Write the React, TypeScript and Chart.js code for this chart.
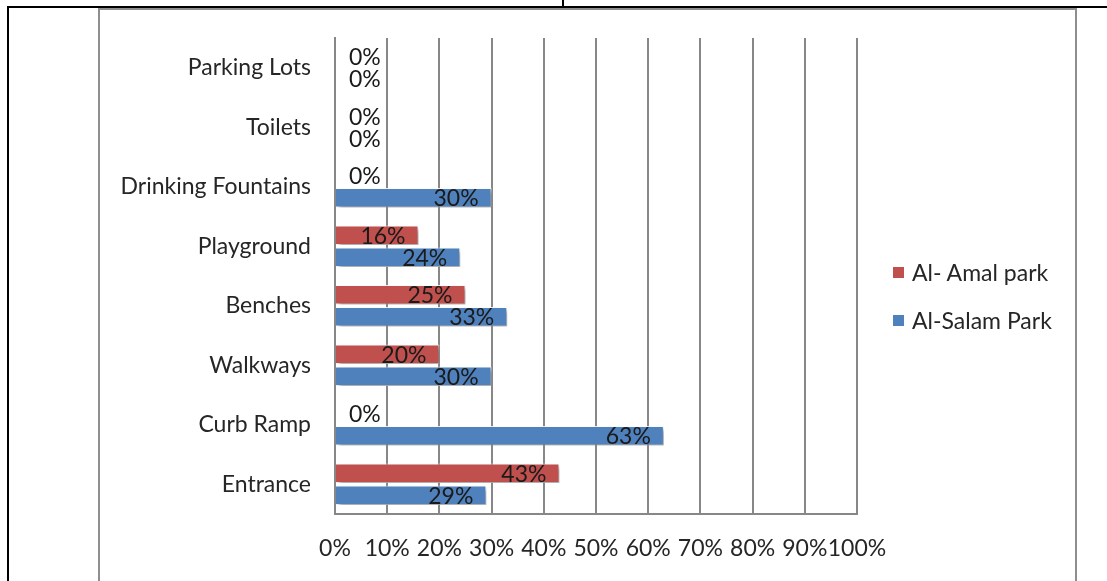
import React, { useEffect, useRef } from "react";
import { Chart, registerables } from "chart.js";

Chart.register(...registerables);

const categories = [
  "Parking Lots",
  "Toilets",
  "Drinking Fountains",
  "Playground",
  "Benches",
  "Walkways",
  "Curb Ramp",
  "Entrance",
];
const amalPark = [0, 0, 0, 16, 25, 20, 0, 43];
const salamPark = [0, 0, 30, 24, 33, 30, 63, 29];
const xTicks = [0, 10, 20, 30, 40, 50, 60, 70, 80, 90, 100];

const FONT = "Lato";
const FS = 23;
const TEXT = "#262626";
const GRID = "#878787";

const labelPlugin = {
  id: "valueLabels",
  afterDatasetsDraw(chart: any) {
    const ctx = chart.ctx;
    ctx.save();
    ctx.font = `${FS}px ${FONT}`;
    ctx.fillStyle = "#1a1a1a";
    ctx.textBaseline = "middle";
    chart.data.datasets.forEach((ds: any, i: number) => {
      const meta = chart.getDatasetMeta(i);
      meta.data.forEach((bar: any, j: number) => {
        const v = ds.data[j];
        const t = v + "%";
        if (v > 0) {
          ctx.textAlign = "right";
          ctx.fillText(t, bar.x - 13, bar.y + 1);
        } else {
          ctx.textAlign = "left";
          ctx.fillText(t, bar.base + 14, bar.y + 1);
        }
      });
    });
    ctx.restore();
  },
};

const shadowPlugin = {
  id: "barShadow",
  beforeDatasetsDraw(chart: any) {
    const ctx = chart.ctx;
    ctx.save();
    ctx.shadowColor = "rgba(0,0,0,0.35)";
    ctx.shadowBlur = 4;
    ctx.shadowOffsetX = 3;
    ctx.shadowOffsetY = 3;
  },
  afterDatasetsDraw(chart: any) {
    chart.ctx.restore();
  },
};

export default function App() {
  const ref = useRef<HTMLCanvasElement | null>(null);

  useEffect(() => {
    if (!ref.current) return;
    const chart = new Chart(ref.current, {
      type: "bar",
      data: {
        labels: categories,
        datasets: [
          {
            label: "Al- Amal park",
            data: amalPark,
            backgroundColor: "#C0504D",
            borderColor: "rgba(255,255,255,0.85)",
            borderWidth: 1,
            categoryPercentage: 0.74,
            barPercentage: 0.88,
          },
          {
            label: "Al-Salam Park",
            data: salamPark,
            backgroundColor: "#4F81BD",
            borderColor: "rgba(255,255,255,0.85)",
            borderWidth: 1,
            categoryPercentage: 0.74,
            barPercentage: 0.88,
          },
        ],
      },
      options: {
        indexAxis: "y",
        animation: false,
        responsive: false,
        maintainAspectRatio: false,
        layout: { padding: { left: 0, right: 250, top: 38, bottom: 0 } },
        plugins: {
          legend: { display: false },
          tooltip: { enabled: false },
        },
        scales: {
          x: {
            min: 0,
            max: 100,
            afterBuildTicks: (scale: any) => {
              scale.ticks = xTicks.map((v) => ({ value: v }));
            },
            afterFit: (scale: any) => {
              scale.height = 67;
            },
            grid: { color: GRID, lineWidth: 2, drawTicks: false },
            border: { display: true, color: GRID, width: 2 },
            ticks: {
              padding: 21,
              color: TEXT,
              font: { family: FONT, size: FS },
              maxRotation: 0,
              autoSkip: false,
              callback: (v: any) => v + "%",
            },
          },
          y: {
            afterFit: (scale: any) => {
              scale.width = 335;
            },
            grid: { display: false, drawTicks: false },
            border: { display: true, color: GRID, width: 2 },
            ticks: {
              padding: 24,
              color: TEXT,
              font: { family: FONT, size: FS },
              autoSkip: false,
            },
          },
        },
      },
      plugins: [shadowPlugin, labelPlugin],
    });
    return () => chart.destroy();
  }, []);

  const legendItem = (top: number, color: string, text: string) => (
    <div
      style={{
        position: "absolute",
        left: 893,
        top: top - 15,
        height: 30,
        display: "flex",
        alignItems: "center",
        fontFamily: FONT,
        fontSize: FS,
        color: TEXT,
        whiteSpace: "nowrap",
      }}
    >
      <div style={{ width: 11, height: 11, background: color, marginRight: 8 }} />
      <span>{text}</span>
    </div>
  );

  return (
    <div
      style={{
        position: "absolute",
        left: 0,
        top: 0,
        width: 1107,
        height: 581,
        overflow: "hidden",
        background: "#fff",
      }}
    >
      <div style={{ position: "absolute", left: 98, top: 8, width: 975, height: 600, border: "2px solid #8e8e8e" }} />
      <div style={{ position: "absolute", left: 7, top: 6, width: 1100, height: 2, background: "#000" }} />
      <div style={{ position: "absolute", left: 7, top: 6, width: 2, height: 580, background: "#000" }} />
      <div style={{ position: "absolute", left: 562, top: 0, width: 2, height: 7, background: "#000" }} />
      <canvas ref={ref} width={1107} height={581} style={{ position: "absolute", left: 0, top: 0 }} />
      {legendItem(272, "#C0504D", "Al- Amal park")}
      {legendItem(320, "#4F81BD", "Al-Salam Park")}
    </div>
  );
}
